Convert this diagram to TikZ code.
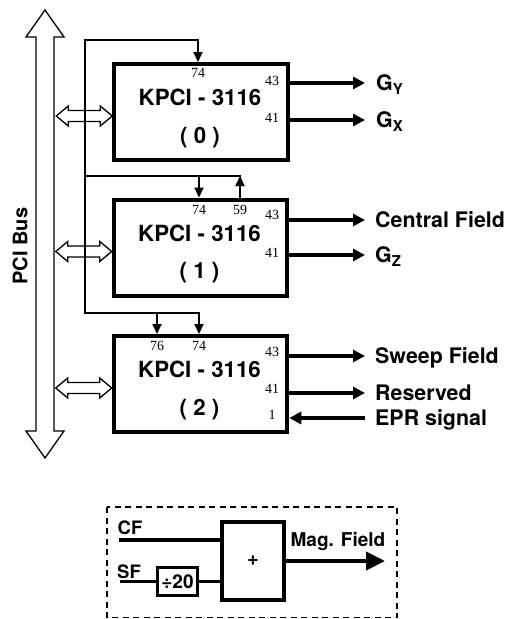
\documentclass[tikz,border=0pt]{standalone}
\usepackage{fontspec}
\usetikzlibrary{arrows.meta,calc}
\newfontfamily\heros{TeX Gyre Heros}
\newfontfamily\pinfont{Liberation Serif}

\begin{document}
\begin{tikzpicture}[x=1pt, y=-1pt, line join=miter,
    card/.style={draw, line width=4pt, minimum width=173.5pt, minimum height=96pt, inner sep=0pt},
    title/.style={font=\heros\bfseries\fontsize{22.3}{26}\selectfont, inner sep=0pt},
    pinno/.style={font=\pinfont\fontsize{14}{16}\selectfont, inner sep=0pt},
    lbl/.style={font=\heros\bfseries\fontsize{21.4}{25}\selectfont, anchor=west, inner sep=0pt, text height=15.4pt, text depth=0pt},
    small/.style={font=\heros\bfseries\fontsize{19}{22}\selectfont, inner sep=0pt},
    sig/.style={line width=2pt, line cap=rect},
    pinarrow/.style={sig, -{Triangle[length=10pt,width=9pt]}},
    outarrow/.style={line width=3.5pt, -{Triangle[length=12pt,width=12pt]}},
    busarrow/.style={draw, fill=white, line width=1.3pt},
    feed/.style={line width=3.3pt}]
  \useasboundingbox (0,0) rectangle (506,619);

  % PCI bus
  \draw[busarrow] (45,10) -- (64,37) -- (54,37) -- (54,431) -- (64,431) -- (45,458)
    -- (26,431) -- (36,431) -- (36,37) -- (26,37) -- cycle;
  \node[small, font=\heros\bfseries\fontsize{20}{23}\selectfont, rotate=90] (bus) at (20,246) {PCI Bus};

  % the three cards
  \node[card] (b0) at (201,112) {};
  \node[card] (b1) at (200.5,247.5) {};
  \node[card] (b2) at (200.5,384) {};
  \foreach \i in {0,1,2} {
    \node[title] (k\i) at ($(b\i)+(-1,-14.5)$) {KPCI - 3116};
    \node[title] (n\i) at ($(b\i)+(-1,25.5)$) {(~\i~)};
    \draw[busarrow] ([yshift=-4pt]b\i.west) -- ++(-12,-10) -- ++(0,4.5) -- ++(-32,0)
      -- ++(0,-4.5) -- ++(-12,10) -- ++(12,10) -- ++(0,-4.5) -- ++(32,0) -- ++(0,4.5) -- cycle;
  }

  % pin numbers
  \node[pinno] (q0a) at (198,73) {74};
  \node[pinno] (q0b) at (272,81) {43};
  \node[pinno] (q0c) at (272,118) {41};
  \node[pinno] (q1a) at (199,210) {74};
  \node[pinno] (q1b) at (240,210) {59};
  \node[pinno] (q1c) at (272,215) {43};
  \node[pinno] (q1d) at (272,253) {41};
  \node[pinno] (q2a) at (157,346) {76};
  \node[pinno] (q2b) at (199,346) {74};
  \node[pinno] (q2c) at (272,352) {43};
  \node[pinno] (q2d) at (272,389) {41};
  \node[pinno] (q2e) at (272,415) {1};

  % trigger lines
  \coordinate (t0) at (85,40);
  \coordinate (t1) at (85,176);
  \coordinate (t2) at (85,313);
  \coordinate (p0a) at ([xshift=-3pt]b0.north);
  \coordinate (p1a) at ([xshift=-1.5pt]b1.north);
  \coordinate (p1b) at ([xshift=39.5pt]b1.north);
  \coordinate (p2a) at ([xshift=-1.5pt]b2.north);
  \coordinate (p2b) at ([xshift=-43.5pt]b2.north);
  \draw[pinarrow] (t0) -- (t2) -| (p2a);
  \draw[pinarrow] (t0) -| (p0a);
  \draw[sig] (t1) -- (p1b |- t1);
  \draw[pinarrow] (p1a |- t1) -- (p1a);
  \draw[pinarrow] (p1b) -- (p1b |- t1);
  \draw[pinarrow] (p2b |- t2) -- (p2b);

  % outputs
  \node[lbl] (gy) at (376,83) {G\textsubscript{Y}};
  \node[lbl] (gx) at (376,120) {G\textsubscript{X}};
  \node[lbl] (cfield) at (375,220) {Central Field};
  \node[lbl] (gz) at (375,255) {G\textsubscript{Z}};
  \node[lbl] (sweep) at (375,356) {Sweep Field};
  \node[lbl] (resv) at (375,393) {Reserved};
  \node[lbl] (epr) at (375,418) {EPR signal};
  \draw[outarrow] (b0.east |- gy) -- ([xshift=-11pt]gy.west);
  \draw[outarrow] (b0.east |- gx) -- ([xshift=-11pt]gx.west);
  \draw[outarrow] (b1.east |- cfield) -- ([xshift=-10pt]cfield.west);
  \draw[outarrow] (b1.east |- gz) -- ([xshift=-10pt]gz.west);
  \draw[outarrow] (b2.east |- sweep) -- ([xshift=-10pt]sweep.west);
  \draw[outarrow] (b2.east |- resv) -- ([xshift=-10pt]resv.west);
  \draw[outarrow] ([xshift=-10pt]epr.west) -- (b2.east |- epr);

  % field sum
  \draw[line width=1.5pt, dash pattern=on 6pt off 4.5pt] (107,507) rectangle (397,617.5);
  \node[draw, line width=4pt, minimum width=62pt, minimum height=78pt, small,
    font=\heros\bfseries\fontsize{20}{23}\selectfont] (sum) at (253,561) {+};
  \node[draw, line width=3pt, minimum width=40pt, minimum height=28pt, small] (div) at (177.5,581.5) {÷20};
  \node[small, font=\heros\bfseries\fontsize{18.5}{21}\selectfont] (cflbl) at (130,527.5) {CF};
  \node[small, font=\heros\bfseries\fontsize{18.5}{21}\selectfont] (sflbl) at (129,572) {SF};
  \node[small] (maglbl) at (338,541) {Mag. Field};
  \coordinate (cf) at (119,540);
  \coordinate (sf) at (120,581.5);
  \coordinate (mag) at (385,561);
  \draw[feed] (cf) -- (sum.west |- cf);
  \draw[feed] (sf) -- (div.west);
  \draw[feed] (div.east) -- (sum.west |- div.east);
  \draw[line width=4pt, -{Triangle[length=19pt,width=18pt]}] (sum.east) -- (mag);
\end{tikzpicture}
\end{document}
